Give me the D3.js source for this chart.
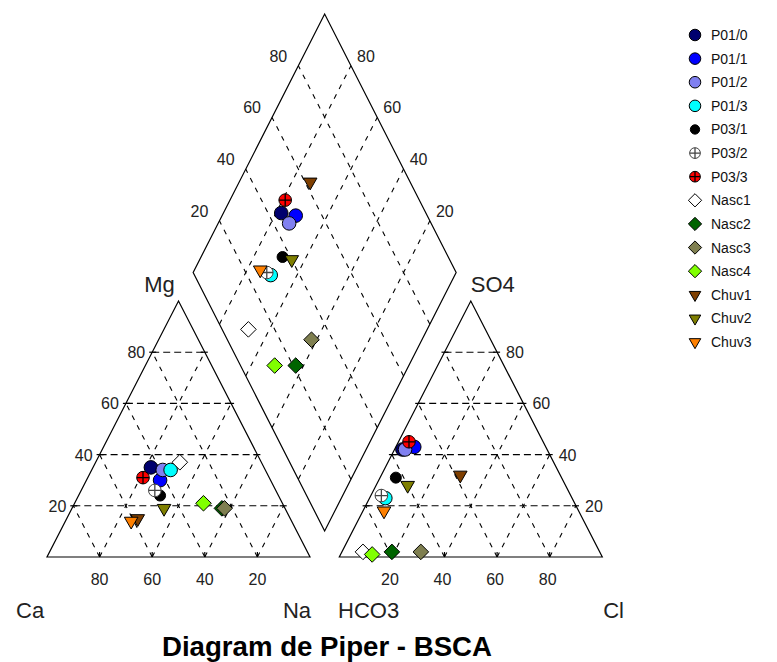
<!DOCTYPE html>
<html>
<head>
<meta charset="utf-8">
<title>Diagram de Piper - BSCA</title>
<style>
	body { margin: 0; background: #fff; }
	svg { display: block; font-family: "Liberation Sans", Arial, sans-serif; }
	.edge { fill: none; stroke: #000; stroke-width: 1.2px; }
	.tick { fill: none; stroke: #000; stroke-width: 1.2px; }
	.grid-h { fill: none; stroke: #000; stroke-width: 1.1px; stroke-dasharray: 7,4; }
	.grid-d { fill: none; stroke: #000; stroke-width: 1.1px; stroke-dasharray: 5,6; }
	.tick-label { font-size: 16px; fill: #222; }
	.axis-label { font-size: 22px; fill: #222; }
	.legend text { font-size: 14px; fill: #111; }
	.title { font-size: 27px; font-weight: bold; fill: #000; }
</style>
</head>
<body>
<div id="chart"></div>
<script src="https://d3js.org/d3.v7.min.js"></script>
<script>
	'use strict';

	// samples, in legend order
	const samples = ['P01/0', 'P01/1', 'P01/2', 'P01/3', 'P03/1', 'P03/2', 'P03/3',
		'Nasc1', 'Nasc2', 'Nasc3', 'Nasc4', 'Chuv1', 'Chuv2', 'Chuv3'];

	// cations, % meq
	const ca = [43, 42, 39, 36, 45, 46, 48, 31, 24, 23, 30, 58, 46, 61];
	const mg = [35, 30, 34, 34, 24, 26, 31, 37, 19, 19, 21, 15, 19, 14];
	const na = [22, 28, 27, 30, 31, 28, 21, 32, 57, 58, 49, 27, 35, 25];

	// anions, % meq
	const hco3 = [55, 50, 54, 71, 63, 72, 51, 90, 79, 68, 87, 38, 60, 74];
	const so4 = [42, 43, 42, 23, 31, 24, 45, 2, 2, 2, 1, 32, 28, 18];
	const cl = [3, 7, 4, 6, 6, 4, 4, 8, 19, 30, 12, 30, 12, 8];

	const ticks = [20, 40, 60, 80];

	// marker look for every sample
	const markers = {
		'P01/0': {shape: 'circle', fill: '#00006e'},
		'P01/1': {shape: 'circle', fill: '#0000ff'},
		'P01/2': {shape: 'circle', fill: '#8080f0'},
		'P01/3': {shape: 'circle', fill: '#00ffff'},
		'P03/1': {shape: 'dot', fill: '#000'},
		'P03/2': {shape: 'cross', fill: '#fff', line: '#444'},
		'P03/3': {shape: 'cross', fill: '#ff0000', line: '#000'},
		'Nasc1': {shape: 'diamond', fill: '#fff'},
		'Nasc2': {shape: 'diamond', fill: '#006400'},
		'Nasc3': {shape: 'diamond', fill: '#7f7f50'},
		'Nasc4': {shape: 'diamond', fill: '#80ff00'},
		'Chuv1': {shape: 'tri', fill: '#7f3f00'},
		'Chuv2': {shape: 'tri', fill: '#7f7f00'},
		'Chuv3': {shape: 'tri', fill: '#ff8000'}
	};

	const width = 777;
	const height = 662;
	const gap = 11.14; // space between the two triangles, in % of a side

	// horizontal: 0..100 = one triangle side
	const x = d3.scaleLinear().domain([0, 100]).range([47, 310]);
	// triangle height in %
	const yT = d3.scaleLinear().domain([0, 100]).range([557, 301]);
	// diamond: (Ca+Mg) + (SO4+Cl)
	const yD = d3.scaleLinear().domain([0, 200]).range([531, 14]);

	const catPt = (n, m) => [x(n + m / 2), yT(m)];
	const anPt = (c, s) => [x(100 + gap + c + s / 2), yT(s)];
	const diaPt = (a, b) => [x(100 + gap / 2 + (b - a) / 2), yD(a + b)];

	const svg = d3.select('#chart').append('svg')
		.attr('width', width)
		.attr('height', height);

	const line = d3.line();

	function seg(g, cls, p1, p2) {
		g.append('path').attr('class', cls).attr('d', line([p1, p2]));
	}

	const grid = svg.append('g');

	// сетка треугольников
	[catPt, anPt].forEach((pt) => {
		ticks.forEach((k) => {
			seg(grid, 'grid-h', pt(0, k), pt(100 - k, k));
			seg(grid, 'grid-d', pt(k, 0), pt(k, 100 - k));
			seg(grid, 'grid-d', pt(100 - k, 0), pt(0, 100 - k));
			// короткие засечки
			const b = pt(k, 0);
			seg(grid, 'tick', b, [b[0], b[1] - 5]);
			const l = pt(0, k);
			seg(grid, 'tick', [l[0] - 3, l[1]], [l[0] + 4, l[1]]);
			const r = pt(100 - k, k);
			seg(grid, 'tick', [r[0] - 4, r[1]], [r[0] + 3, r[1]]);
		});
		grid.append('path').attr('class', 'edge')
			.attr('d', line([pt(0, 0), pt(100, 0), pt(0, 100)]) + 'Z');
	});

	// сетка ромба
	ticks.forEach((k) => {
		seg(grid, 'grid-d', diaPt(k, 0), diaPt(k, 100));
		seg(grid, 'grid-d', diaPt(0, k), diaPt(100, k));
	});
	grid.append('path').attr('class', 'edge')
		.attr('d', line([diaPt(0, 0), diaPt(100, 0), diaPt(100, 100), diaPt(0, 100)]) + 'Z');

	// подписи шкал
	const labels = svg.append('g').attr('class', 'tick-label');
	ticks.forEach((k) => {
		// Ca along the left base (100 at the left corner)
		let p = catPt(100 - k, 0);
		labels.append('text').attr('x', p[0]).attr('y', 585).attr('text-anchor', 'middle').text(k);
		// Mg on the left side
		p = catPt(0, k);
		labels.append('text').attr('x', p[0] - 7).attr('y', p[1] + 6).attr('text-anchor', 'end').text(k);
		// Cl along the right base
		p = anPt(k, 0);
		labels.append('text').attr('x', p[0] - 2).attr('y', 585).attr('text-anchor', 'middle').text(k);
		// SO4 on the right side
		p = anPt(100 - k, k);
		labels.append('text').attr('x', p[0] + 9).attr('y', p[1] + 6).attr('text-anchor', 'start').text(k);
		// diamond, upper left: SO4+Cl
		p = diaPt(100, k);
		labels.append('text').attr('x', p[0] - 20).attr('y', p[1] - 4).attr('text-anchor', 'middle').text(k);
		// diamond, upper right: Ca+Mg
		p = diaPt(k, 100);
		labels.append('text').attr('x', p[0] + 15).attr('y', p[1] - 4).attr('text-anchor', 'middle').text(k);
	});

	const axisNames = svg.append('g').attr('class', 'axis-label');
	const apexL = catPt(0, 100);
	const apexR = anPt(0, 100);
	axisNames.append('text').attr('x', apexL[0] - 19).attr('y', apexL[1] - 9).attr('text-anchor', 'middle').text('Mg');
	axisNames.append('text').attr('x', apexR[0] + 22).attr('y', apexR[1] - 9).attr('text-anchor', 'middle').text('SO4');
	axisNames.append('text').attr('x', 16).attr('y', 618).text('Ca');
	axisNames.append('text').attr('x', 311).attr('y', 618).attr('text-anchor', 'end').text('Na');
	axisNames.append('text').attr('x', 338).attr('y', 618).text('HCO3');
	axisNames.append('text').attr('x', 624).attr('y', 618).attr('text-anchor', 'end').text('Cl');

	svg.append('text').attr('class', 'title')
		.attr('x', 162).attr('y', 656)
		.attr('textLength', 330).attr('lengthAdjust', 'spacingAndGlyphs')
		.text('Diagram de Piper - BSCA');

	// маркеры
	function drawMarker(g, name, cx, cy, s) {
		const m = markers[name];
		const mk = g.append('g').attr('transform', 'translate(' + cx + ',' + cy + ')');
		if (m.shape === 'circle') {
			mk.append('circle').attr('r', 6.8 * s).attr('fill', m.fill).attr('stroke', '#000').attr('stroke-width', 1);
		} else if (m.shape === 'dot') {
			mk.append('circle').attr('r', 5.5 * s).attr('fill', m.fill).attr('stroke', '#000');
		} else if (m.shape === 'cross') {
			const r = 6.3 * s;
			mk.append('circle').attr('r', r).attr('fill', m.fill).attr('stroke', m.line).attr('stroke-width', 1);
			mk.append('path').attr('stroke', m.line).attr('stroke-width', 1.3)
				.attr('d', 'M' + (-r) + ',0H' + r + 'M0,' + (-r) + 'V' + r);
		} else if (m.shape === 'diamond') {
			const r = 7.8 * s;
			mk.append('path').attr('fill', m.fill).attr('stroke', '#000').attr('stroke-width', 1)
				.attr('d', 'M0,' + (-r) + 'L' + r + ',0L0,' + r + 'L' + (-r) + ',0Z');
		} else {
			mk.append('path').attr('fill', m.fill).attr('stroke', '#000').attr('stroke-width', 1)
				.attr('transform', 'rotate(180)')
				.attr('d', d3.symbol().type(d3.symbolTriangle).size(80 * s * s)());
		}
	}

	const points = svg.append('g');
	samples.forEach((name, i) => {
		const a = 100 - na[i];
		const b = so4[i] + cl[i];
		let p = catPt(na[i], mg[i]);
		drawMarker(points, name, p[0], p[1], 1);
		p = anPt(cl[i], so4[i]);
		drawMarker(points, name, p[0], p[1], 1);
		p = diaPt(a, b);
		drawMarker(points, name, p[0], p[1], 1);
	});

	// легенда
	const legend = svg.append('g').attr('class', 'legend');
	const ly = d3.scalePoint().domain(samples).range([35, 342]);
	samples.forEach((name) => {
		drawMarker(legend, name, 695, ly(name), 0.85);
		legend.append('text').attr('x', 711).attr('y', ly(name) + 5).text(name);
	});
</script>
</body>
</html>
